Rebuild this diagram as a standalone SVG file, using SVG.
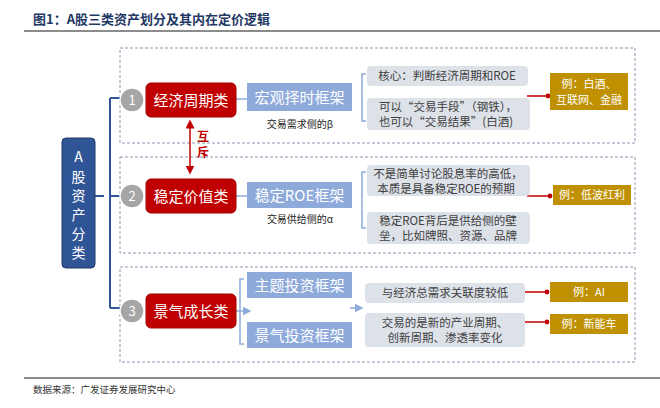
<svg xmlns="http://www.w3.org/2000/svg" width="660" height="408" viewBox="0 0 660 408">
<defs>
<style>
text{font-family:"Noto Sans CJK SC","Liberation Sans",sans-serif}
.dash{fill:none;stroke:#8a96b0;stroke-width:1;stroke-dasharray:3,2}
.red{fill:#c00000;stroke:#a00000}
.blue{fill:#8eaadb}
.gray{fill:#dde1e8}
.gold{fill:#bf9000}
.circ{fill:#a6a6a6;stroke:#fff;stroke-width:1.5}
.wt{fill:#fff;text-anchor:middle}
.dt{fill:#404040;text-anchor:middle;font-size:11.5px}
.br{fill:none;stroke:#8eaadb;stroke-width:1.5}
.rl{stroke:#c00000;stroke-width:1.5}
</style>
<marker id="dot" markerWidth="4" markerHeight="4" refX="2" refY="2"><circle cx="2" cy="2" r="1.6" fill="#c00000"/></marker>
<marker id="ar" markerWidth="6" markerHeight="6" refX="3" refY="3" orient="auto-start-reverse"><path d="M0,0L6,3L0,6z" fill="#c00000"/></marker>
<marker id="ba" markerWidth="6" markerHeight="6" refX="5" refY="3" orient="auto"><path d="M0,0L6,3L0,6z" fill="#8eaadb"/></marker>
</defs>
<rect width="660" height="408" fill="#fff"/>
<text x="33" y="24" font-size="13" font-weight="bold" fill="#1f3864">图1：A股三类资产划分及其内在定价逻辑</text>
<line x1="24" y1="31" x2="660" y2="31" stroke="#666" stroke-width="1.5"/>
<rect class="dash" x="120" y="48" width="515" height="95"/>
<rect class="dash" x="120" y="157" width="515" height="96"/>
<rect class="dash" x="120" y="267" width="515" height="95"/>
<g id="connectors">
<path d="M95,196H104M110,98V308M110,98H122M110,308H122M110,196H122" fill="none" stroke="#2f5597" stroke-width="2"/>
<line x1="236" y1="99" x2="247" y2="99" stroke="#8eaadb" stroke-width="1.5"/>
<line x1="236" y1="196" x2="247" y2="196" stroke="#8eaadb" stroke-width="1.5"/>
<line x1="236" y1="311" x2="250" y2="311" stroke="#8eaadb" stroke-width="1.5" marker-end="url(#ba)"/>
<line x1="350" y1="308" x2="362" y2="308" stroke="#8eaadb" stroke-width="1.5" marker-end="url(#ba)"/>
<line x1="190" y1="124" x2="190" y2="170" stroke="#c00000" stroke-width="1.5" marker-start="url(#ar)" marker-end="url(#ar)"/>
<path class="br" d="M366,74h-4v47h4M366,172h-4v56h4M244,279h-4v65h4"/>
<line class="rl" x1="527" y1="96" x2="548" y2="96" marker-end="url(#dot)"/>
<line class="rl" x1="527" y1="196" x2="550" y2="196" marker-end="url(#dot)"/>
<line class="rl" x1="525" y1="292" x2="547" y2="292" marker-end="url(#dot)"/>
<line class="rl" x1="525" y1="322" x2="547" y2="322" marker-end="url(#dot)"/>
</g>
<text x="203" y="141" font-size="12" font-weight="bold" fill="#c00000" text-anchor="middle">互</text>
<text x="203" y="157" font-size="12" font-weight="bold" fill="#c00000" text-anchor="middle">斥</text>
<g id="nodeA"><rect x="62" y="138" width="33" height="130" rx="4" fill="#2f5597" stroke="#1f3864"/>
<text class="wt" font-size="14" x="78.5" y="162">A</text><text class="wt" font-size="14" x="78.5" y="182">股</text><text class="wt" font-size="14" x="78.5" y="201">资</text><text class="wt" font-size="14" x="78.5" y="220">产</text><text class="wt" font-size="14" x="78.5" y="239">分</text><text class="wt" font-size="14" x="78.5" y="258">类</text></g>
<g id="c1"><circle class="circ" cx="132" cy="100" r="12"/><text class="wt" x="132" y="105" font-size="13">1</text></g>
<g id="c2"><circle class="circ" cx="132" cy="196" r="12"/><text class="wt" x="132" y="201" font-size="13">2</text></g>
<g id="c3"><circle class="circ" cx="132" cy="311" r="12"/><text class="wt" x="132" y="316" font-size="13">3</text></g>
<g id="r1"><rect class="red" x="146" y="83" width="90" height="34" rx="5"/><text class="wt" x="191" y="106" font-size="15">经济周期类</text></g>
<g id="r2"><rect class="red" x="146" y="179" width="90" height="34" rx="5"/><text class="wt" x="191" y="202" font-size="15">稳定价值类</text></g>
<g id="r3"><rect class="red" x="146" y="294" width="90" height="34" rx="5"/><text class="wt" x="191" y="317" font-size="15">景气成长类</text></g>
<g id="b1"><rect class="blue" x="247" y="83" width="105" height="28"/><text class="wt" x="299.5" y="103" font-size="15">宏观择时框架</text></g>
<text x="300" y="128" font-size="10" fill="#222" text-anchor="middle">交易需求侧的β</text>
<g id="b2"><rect class="blue" x="247" y="182" width="105" height="26"/><text class="wt" x="299.5" y="201" font-size="15">稳定ROE框架</text></g>
<text x="300" y="223" font-size="10" fill="#222" text-anchor="middle">交易供给侧的α</text>
<g id="b3"><rect class="blue" x="247" y="272" width="105" height="26"/><text class="wt" x="299.5" y="291" font-size="15">主题投资框架</text></g>
<g id="b4"><rect class="blue" x="247" y="322" width="105" height="26"/><text class="wt" x="299.5" y="341" font-size="15">景气投资框架</text></g>
<g id="g1"><rect class="gray" x="367" y="66" width="161" height="20" rx="4"/><text class="dt" x="447" y="80">核心：判断经济周期和ROE</text></g>
<g id="g2"><rect class="gray" x="367" y="98" width="163" height="32" rx="4"/><text class="dt" x="448" y="111">可以“交易手段”（钢铁），</text><text class="dt" x="446" y="126">也可以“交易结果”(白酒)</text></g>
<g id="g3"><rect class="gray" x="367" y="165" width="163" height="31" rx="4"/><text class="dt" x="448" y="178">不是简单讨论股息率的高低，</text><text class="dt" x="446" y="193">本质是具备稳定ROE的预期</text></g>
<g id="g4"><rect class="gray" x="367" y="212" width="163" height="32" rx="4"/><text class="dt" x="448" y="225">稳定ROE背后是供给侧的壁</text><text class="dt" x="448" y="240">垒，比如牌照、资源、品牌</text></g>
<g id="g5"><rect class="gray" x="365" y="283" width="160" height="20" rx="4"/><text class="dt" x="445" y="297">与经济总需求关联度较低</text></g>
<g id="g6"><rect class="gray" x="365" y="313" width="160" height="34" rx="4"/><text class="dt" x="445" y="327">交易的是新的产业周期、</text><text class="dt" x="445" y="342">创新周期、渗透率变化</text></g>
<g id="e1"><rect class="gold" x="550" y="73" width="78" height="37"/><text class="wt" x="589" y="88" font-size="11">例：白酒、</text><text class="wt" x="589" y="104" font-size="11">互联网、金融</text></g>
<g id="e2"><rect class="gold" x="553" y="185" width="78" height="20"/><text class="wt" x="592" y="199" font-size="11">例：低波红利</text></g>
<g id="e3"><rect class="gold" x="550" y="282" width="78" height="20"/><text class="wt" x="589" y="296" font-size="11">例：AI</text></g>
<g id="e4"><rect class="gold" x="550" y="314" width="78" height="20"/><text class="wt" x="589" y="328" font-size="11">例：新能车</text></g>
<line x1="24" y1="378" x2="660" y2="378" stroke="#666" stroke-width="1.5"/>
<text x="33" y="393" font-size="9.5" fill="#333">数据来源：广发证券发展研究中心</text>
</svg>
